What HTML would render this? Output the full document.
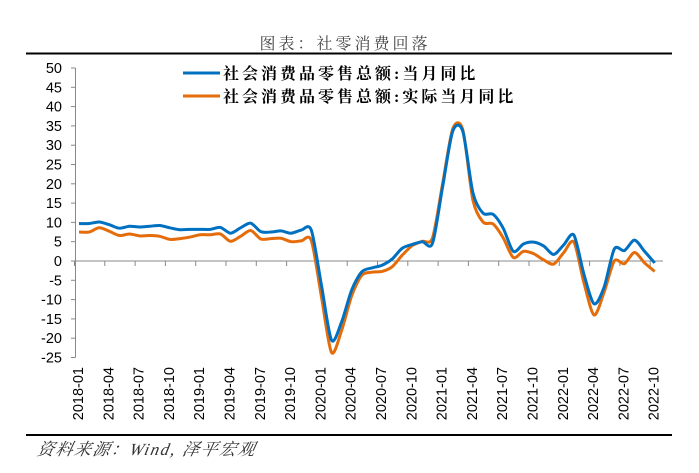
<!DOCTYPE html>
<html><head><meta charset="utf-8"><style>
html,body{margin:0;padding:0;background:#fff;}
svg{display:block}
</style></head><body>
<svg id="s" width="699" height="473" xmlns="http://www.w3.org/2000/svg">
<text x="345" y="49" text-anchor="middle" font-family="'Liberation Serif','Noto Serif CJK SC',serif" font-size="16" fill="#444" letter-spacing="3">图表：社零消费回落</text>
<line x1="26" y1="53.5" x2="672" y2="53.5" stroke="#000" stroke-width="2"/>
<line x1="26" y1="435" x2="672" y2="435" stroke="#000" stroke-width="2"/>
<text x="38" y="455" font-family="'Liberation Serif','Noto Serif CJK SC',serif" font-size="17" font-style="italic" fill="#333" letter-spacing="1.5" transform="skewX(-12) translate(95,0)">资料来源：Wind, 泽平宏观</text>
<g id="axes"></g>
<g id="lines"></g>
<line x1="183" y1="73" x2="220" y2="73" stroke="#0070c0" stroke-width="3"/>
<line x1="183" y1="96" x2="220" y2="96" stroke="#e46c0a" stroke-width="3"/>
<g font-family="'Liberation Serif','Noto Serif CJK SC',serif" font-size="16" font-weight="bold" fill="#000" letter-spacing="3">
<text x="223" y="79">社会消费品零售总额:当月同比</text>
<text x="223" y="102">社会消费品零售总额:实际当月同比</text>
</g>
</svg>
<script>
var NS="http://www.w3.org/2000/svg";
function el(p,t,a,txt){var e=document.createElementNS(NS,t);for(var k in a)e.setAttribute(k,a[k]);if(txt!==undefined)e.textContent=txt;p.appendChild(e);return e;}
var ax=document.getElementById('axes'),ln=document.getElementById('lines');
function Y(v){return 261-v*3.86;}
function X(i){return 79+10.1*i;}
el(ax,'line',{x1:75.5,y1:Y(50),x2:75.5,y2:Y(-25),stroke:'#888','stroke-width':1});
for(var v=-25;v<=50;v+=5){
 el(ax,'line',{x1:71,y1:Y(v),x2:75.5,y2:Y(v),stroke:'#888','stroke-width':1});
 el(ax,'text',{x:62,y:Y(v)+5,'text-anchor':'end','font-family':'Liberation Sans,sans-serif','font-size':14.5,fill:'#000'},v);
}
el(ax,'line',{x1:75.5,y1:261,x2:663,y2:261,stroke:'#888','stroke-width':1});
for(var k=0;k<=19;k++){var tx=74+k*30.3+0.5;el(ax,'line',{x1:tx,y1:261,x2:tx,y2:266,stroke:'#888','stroke-width':1});}
for(var i=0;i<=57;i+=3){var y0=2018+Math.floor(i/12),m=i%12+1;var lab=y0+'-'+(m<10?'0':'')+m;
 var cx=X(i)+4,cy=367;
 el(ax,'text',{x:cx,y:cy,'text-anchor':'end','font-family':'Liberation Sans,sans-serif','font-size':14.5,fill:'#000',transform:'rotate(-90 '+cx+' '+cy+')'},lab);}
var blue=[9.7,9.7,10.1,9.4,8.5,9.0,8.8,9.0,9.2,8.6,8.1,8.2,
8.2,8.2,8.7,7.2,8.6,9.8,7.6,7.5,7.8,7.2,8.0,8.0,
-6.2,-20.5,-15.8,-7.5,-2.8,-1.8,-1.1,0.5,3.3,4.3,5.0,4.6,
19.2,33.6,33.6,17.7,12.4,12.1,8.5,2.5,4.4,4.9,3.9,1.7,
4.2,6.7,-3.5,-11.1,-6.7,3.1,2.7,5.4,2.5,-0.5];
var org=[7.5,7.5,8.6,7.7,6.6,7.0,6.5,6.6,6.4,5.6,5.8,6.2,
6.8,6.8,7.0,5.1,6.4,7.9,5.7,5.8,5.9,5.0,5.2,5.3,
-9.2,-23.7,-18,-9,-3.7,-2.9,-2.7,-1.5,1.5,4.0,5.1,6.0,
20,34.2,34.0,15.8,10.1,9.6,6.0,0.9,2.5,1.9,0.3,-0.8,
2.2,4.9,-5.7,-14,-8,0.0,-0.7,2.2,-0.5,-2.7];
function path(d){var p=d.map(function(v,i){return [X(i),Y(v)];});var s='M'+p[0][0]+','+p[0][1];
 for(var i=0;i<p.length-1;i++){var p0=p[i-1]||p[i],p1=p[i],p2=p[i+1],p3=p[i+2]||p2;var t=0.14;
 s+=' C'+(p1[0]+(p2[0]-p0[0])*t)+','+(p1[1]+(p2[1]-p0[1])*t)+' '+(p2[0]-(p3[0]-p1[0])*t)+','+(p2[1]-(p3[1]-p1[1])*t)+' '+p2[0]+','+p2[1];}
 return s;}
el(ln,'path',{d:path(org),fill:'none',stroke:'#e46c0a','stroke-width':3,'stroke-linejoin':'round'});
el(ln,'path',{d:path(blue),fill:'none',stroke:'#0070c0','stroke-width':3,'stroke-linejoin':'round'});
</script>
</body></html>
